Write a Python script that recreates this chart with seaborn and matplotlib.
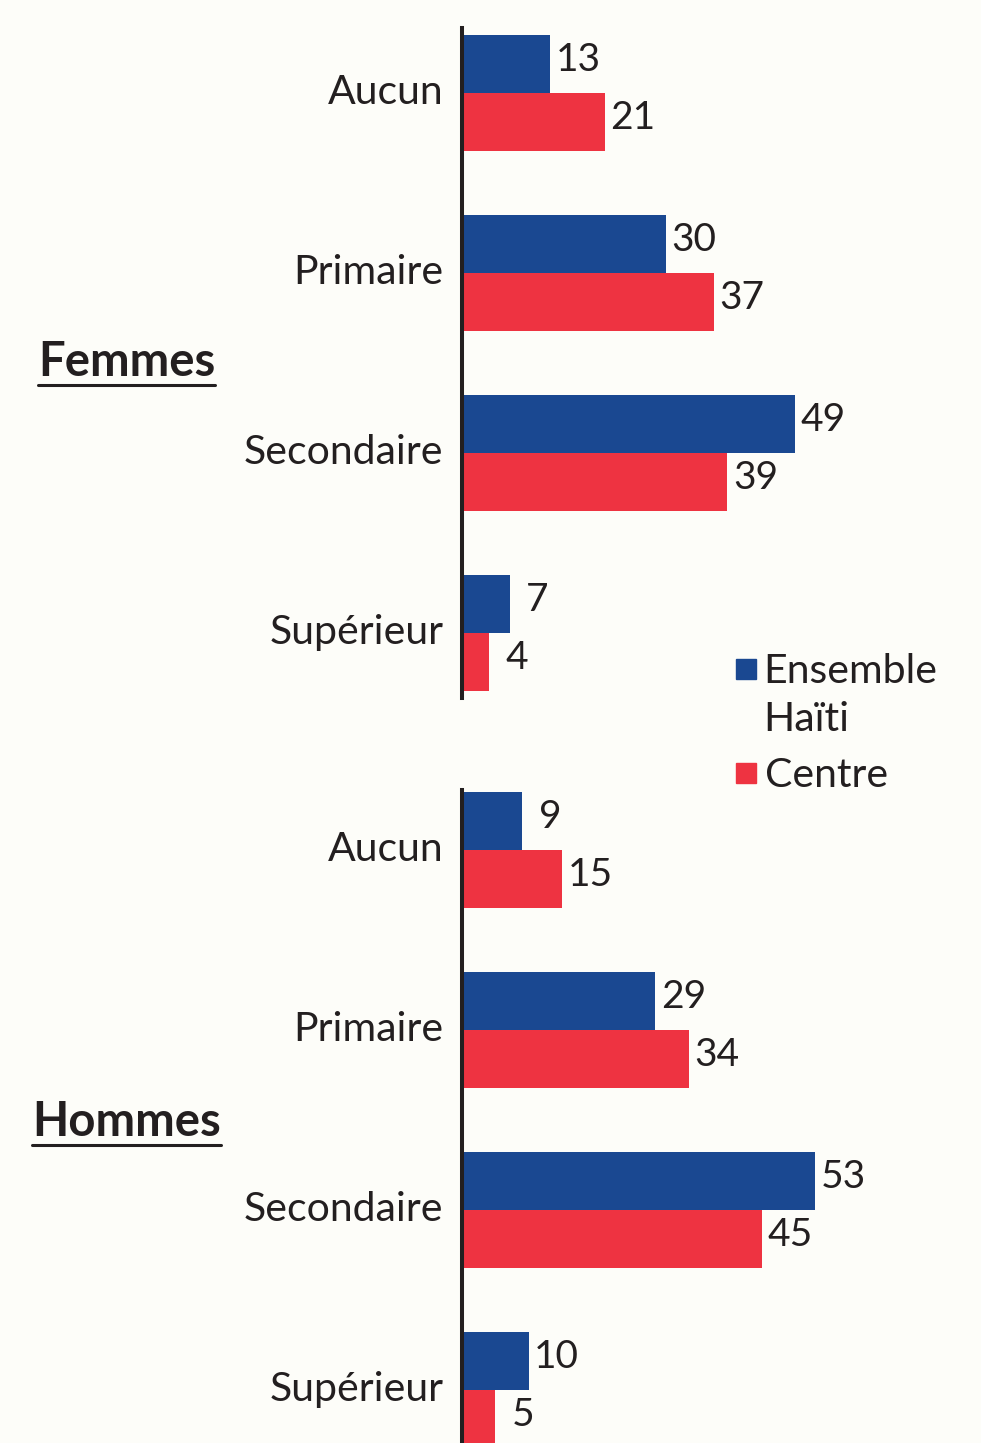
import pandas as pd
import numpy as np
import matplotlib.pyplot as plt
import seaborn as sns
from matplotlib.patches import Rectangle
from matplotlib.lines import Line2D
from matplotlib.transforms import ScaledTranslation

# data
levels = ['Aucun', 'Primaire', 'Secondaire', 'Supérieur']
series = ['Ensemble Haïti', 'Centre']
femmes_haiti = [13, 30, 49, 7]
femmes_centre = [21, 37, 39, 4]
hommes_haiti = [9, 29, 53, 10]
hommes_centre = [15, 34, 45, 5]

BLUE = '#1A4891'
RED = '#EE3341'
INK = '#231F20'
BG = '#FDFDF9'

sns.set_style('white')
plt.rcParams['font.family'] = ['Lato', 'DejaVu Sans']

def make_df(haiti, centre):
    return pd.DataFrame({
        'niveau': levels * 2,
        'serie': [series[0]] * 4 + [series[1]] * 4,
        'pct': haiti + centre,
    })

W, H = 981, 1443
fig = plt.figure(figsize=(W / 100, H / 100), dpi=100, facecolor=BG)

ax_left = 462 / W
ax_w = (W - 462) / W
ax_top = fig.add_axes([ax_left, 1 - 698 / H, ax_w, (698 - 28) / H])
ax_bot = fig.add_axes([ax_left, 0, ax_w, (1443 - 790) / H])

# nudge tick labels up a little (Lato sits low compared to the original font)
lift = ScaledTranslation(0, 4 / 100, fig.dpi_scale_trans)

panels = [
    (ax_top, make_df(femmes_haiti, femmes_centre), (3.361, -0.361), 76.3),
    (ax_bot, make_df(hommes_haiti, hommes_centre), (3.294, -0.333), 77.9),
]

for ax, df, ylim, xmax in panels:
    sns.barplot(data=df, y='niveau', x='pct', hue='serie', order=levels,
                hue_order=series, palette=[BLUE, RED], width=0.644,
                orient='h', ax=ax, legend=False, saturation=1, linewidth=0)
    ax.set_facecolor(BG)
    ax.set_xlim(0, xmax)
    ax.set_ylim(*ylim)
    ax.set_xlabel('')
    ax.set_ylabel('')
    ax.set_xticks([])
    for s in ['top', 'right', 'bottom']:
        ax.spines[s].set_visible(False)
    ax.spines['left'].set_linewidth(2.9)
    ax.spines['left'].set_color(INK)
    ax.spines['left'].set_zorder(5)
    ax.tick_params(axis='y', length=0, pad=13.5, labelsize=29.5, labelcolor=INK)
    for lab in ax.get_yticklabels():
        lab.set_transform(lab.get_transform() + lift)
    for cont in ax.containers:
        labels = ax.bar_label(cont, padding=4, fontsize=28, color=INK)
        for t, val in zip(labels, cont.datavalues):
            # single digits sit centred in a two-digit slot in the original
            dx = 8 if val < 10 else 0
            t.xyann = (t.xyann[0] + dx, t.xyann[1] + 3)

# group headings
def heading(txt, x_px, y_px):
    t = fig.text(x_px / W, 1 - y_px / H, txt, fontsize=34, fontweight='bold',
                 color=INK, ha='left', va='center')
    fig.canvas.draw()
    bb = t.get_window_extent()
    y_line = bb.y0 - 1
    fig.add_artist(Line2D([bb.x0 / W, bb.x1 / W], [y_line / H, y_line / H],
                          color=INK, lw=2.2, transform=fig.transFigure))

heading('Femmes', 38, 362)
heading('Hommes', 32, 1122)

# legend
sq = 20
for color, label, y_px, x_txt in [(BLUE, 'Ensemble\nHaïti', 669, 763),
                                  (RED, 'Centre', 773, 765)]:
    fig.add_artist(Rectangle((736 / W, 1 - (y_px + sq / 2) / H), sq / W, sq / H,
                             color=color, transform=fig.transFigure))
    fig.text(x_txt / W, 1 - (y_px - 16) / H, label, fontsize=29.5, color=INK,
             ha='left', va='top', linespacing=1.38)

fig.savefig('out.png', dpi=100, facecolor=BG)
